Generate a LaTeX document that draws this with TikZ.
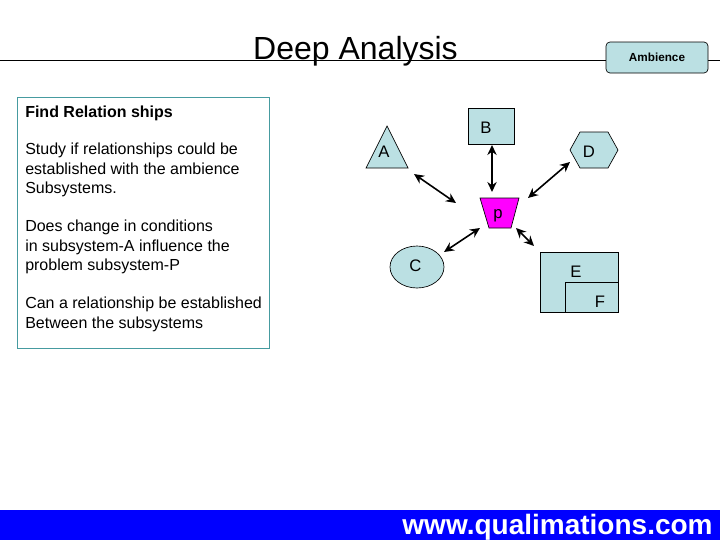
\documentclass[tikz,border=0pt]{standalone}
\usepackage{fontspec}
\setmainfont{Liberation Sans}
\usetikzlibrary{arrows.meta}
\definecolor{boxfill}{RGB}{187,224,227}
\definecolor{boxedge}{RGB}{70,155,160}
\definecolor{magentafill}{RGB}{255,0,255}
\tikzset{
  x=0.75pt,y=-0.75pt,
  shapebox/.style={draw=black,fill=boxfill,line width=0.5pt},
  lab/.style={inner sep=0pt,font=\fontsize{12.5}{14}\selectfont},
  para/.style={anchor=north west,inner sep=0pt,align=left,font=\fontsize{12}{14.4}\selectfont},
  link/.style={{Stealth[length=7.5pt,width=7pt]}-{Stealth[length=7.5pt,width=7pt]},line width=1.2pt,black}
}
\begin{document}
\begin{tikzpicture}
\useasboundingbox (0,0) rectangle (720,540);
\fill[blue] (0,510) rectangle (720,540);
\draw[line width=0.75pt] (0,60) -- (720,60);
\node[inner sep=0pt,font=\fontsize{24}{28}\selectfont] (title) at (355.5,51) {Deep Analysis};
\node[draw=black,fill=boxfill,rounded corners=3pt,line width=0.5pt,minimum width=76.5pt,minimum height=23.25pt,inner sep=0pt,font=\fontsize{8.8}{11}\selectfont\bfseries] (amb) at (657,57.5) {Ambience};
\node[draw=boxedge,line width=0.6pt,minimum width=189pt,minimum height=188.25pt,inner sep=0pt] (panel) at (143,222.5) {};
\node[para,font=\fontsize{12}{14.4}\selectfont\bfseries] (t1) at (25,106) {Find Relation ships};
\node[para] (t2) at (25,143) {Study if relationships could be\\established with the ambience\\Subsystems.};
\node[para] (t3) at (25,220) {Does change in conditions\\in subsystem-A influence the\\problem subsystem-P};
\node[para] (t4) at (25,297) {Can a relationship be established\\Between the subsystems};
% shapes
\draw[shapebox] (387,126) -- (408,168) -- (366,168) -- cycle;
\node[lab] (a) at (384,152) {A};
\node[shapebox,minimum width=34.5pt,minimum height=27pt,inner sep=0pt] (b) at (491,126) {};
\node[lab] (bt) at (486,128) {B};
\draw[shapebox] (570,150) -- (580,132) -- (608,132) -- (618,150) -- (608,168) -- (580,168) -- cycle;
\node[lab] (d) at (589,152) {D};
\draw[draw=black,fill=magentafill,line width=0.5pt] (480,198) -- (519,198) -- (511,228) -- (489,228) -- cycle;
\node[lab] (p) at (498,216) {p};
\draw[shapebox] (417,267) ellipse [x radius=27,y radius=21];
\node[lab] (c) at (415.5,266) {C};
\node[shapebox,minimum width=58.5pt,minimum height=45pt,inner sep=0pt] (e) at (579,282) {};
\node[lab] (et) at (576,272) {E};
\node[shapebox,minimum width=39.75pt,minimum height=22.5pt,inner sep=0pt] (f) at (591.5,297) {};
\draw[line width=1pt] (f.south west) -- (f.south east);
\node[lab] (ft) at (600,302) {F};
% connectors
\draw[link] ([shift={(30,22)}]a.center) -- ([shift={(-42,-13)}]p.center);
\draw[link] ([shift={(1,19)}]b.center) -- ([shift={(-6,-24)}]p.center);
\draw[link] ([shift={(-19,10)}]d.center) -- ([shift={(30,-18)}]p.center);
\draw[link] ([shift={(28.5,-14)}]c.center) -- ([shift={(-18,12)}]p.center);
\draw[link] ([shift={(18,12)}]p.center) -- ([shift={(-45,-36)}]e.center);
\node[inner sep=0pt,text=white,font=\fontsize{21}{24}\selectfont\bfseries] (url) at (557.5,527.5) {www.qualimations.com};
\end{tikzpicture}
\end{document}
